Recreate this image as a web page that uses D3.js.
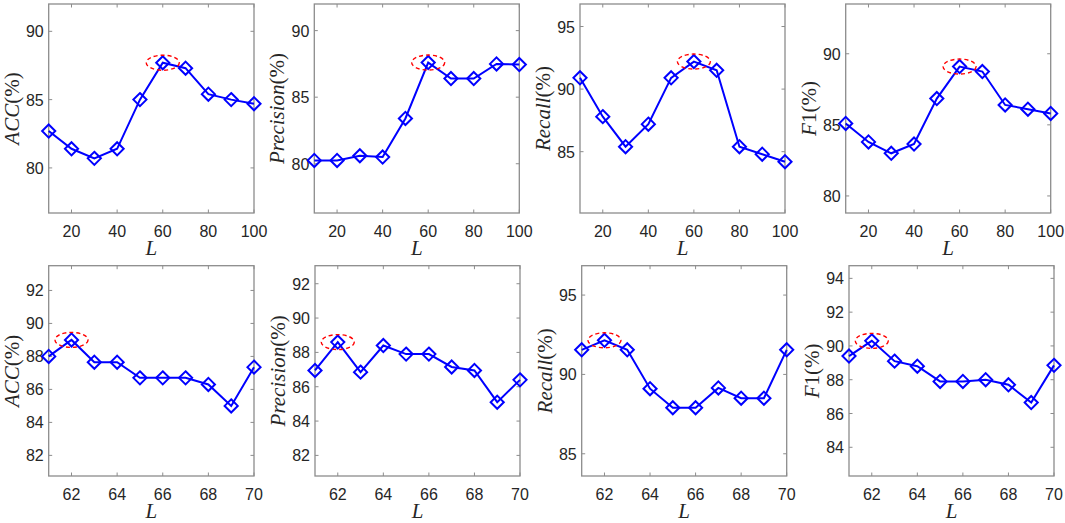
<!DOCTYPE html>
<html>
<head>
<meta charset="utf-8">
<script src="https://cdn.jsdelivr.net/npm/d3@7"></script>
<style>
body { margin: 0; background: #fff; }
svg { display: block; }
.tick-label { font-family: "Liberation Sans", Arial, sans-serif; font-size: 16px; fill: #262626; }
.ax-label { font-family: "Liberation Serif", "Times New Roman", serif; font-size: 21px; fill: #262626; }
</style>
</head>
<body>
<svg id="chart" width="1065" height="523"></svg>
<script>
// data
var Ltop = [10, 20, 30, 40, 50, 60, 70, 80, 90, 100];
var Lbot = [61, 62, 63, 64, 65, 66, 67, 68, 69, 70];

var accTop = [82.7, 81.4, 80.7, 81.4, 85.0, 87.7, 87.3, 85.4, 85.0, 84.7];
var precTop = [80.25, 80.25, 80.6, 80.5, 83.4, 87.6, 86.4, 86.4, 87.5, 87.45];
var recallTop = [90.9, 87.8, 85.4, 87.2, 90.9, 92.2, 91.5, 85.4, 84.8, 84.2];
var f1Top = [85.1, 83.8, 83.0, 83.65, 86.85, 89.1, 88.75, 86.4, 86.1, 85.8];

var accBot = [88.0, 89.0, 87.65, 87.65, 86.7, 86.7, 86.7, 86.3, 85.0, 87.35];
var precBot = [86.95, 88.6, 86.85, 88.4, 87.9, 87.9, 87.15, 86.95, 85.1, 86.4];
var recallBot = [91.55, 92.15, 91.55, 89.1, 87.9, 87.9, 89.15, 88.5, 88.5, 91.55];
var f1Bot = [89.4, 90.3, 89.1, 88.8, 87.9, 87.9, 88.0, 87.7, 86.65, 88.85];

var xTicksTop = [20, 40, 60, 80, 100];
var xTicksBot = [62, 64, 66, 68, 70];

// panel layout
var panels = [
	{ x: Ltop, y: accTop, name: "ACC", box: [48.7, 4, 254, 213], xd: [10, 100], yd: [76.7, 92], xt: xTicksTop, yt: [80, 85, 90] },
	{ x: Ltop, y: precTop, name: "Precision", box: [314.3, 4, 519.3, 213], xd: [10, 100], yd: [76.3, 92], xt: xTicksTop, yt: [80, 85, 90] },
	{ x: Ltop, y: recallTop, name: "Recall", box: [580, 4, 785, 213], xd: [10, 100], yd: [80.1, 96.8], xt: xTicksTop, yt: [85, 90, 95] },
	{ x: Ltop, y: f1Top, name: "F1", box: [845.7, 4, 1050.7, 213], xd: [10, 100], yd: [78.8, 93.5], xt: xTicksTop, yt: [80, 85, 90] },
	{ x: Lbot, y: accBot, name: "ACC", box: [48.7, 265.7, 254, 476], xd: [61, 70], yd: [80.75, 93.5], xt: xTicksBot, yt: [82, 84, 86, 88, 90, 92] },
	{ x: Lbot, y: precBot, name: "Precision", box: [315, 265.7, 520, 476], xd: [61, 70], yd: [80.8, 93.05], xt: xTicksBot, yt: [82, 84, 86, 88, 90, 92] },
	{ x: Lbot, y: recallBot, name: "Recall", box: [581.7, 265.7, 786.7, 476], xd: [61, 70], yd: [83.6, 96.85], xt: xTicksBot, yt: [85, 90, 95] },
	{ x: Lbot, y: f1Bot, name: "F1", box: [849, 265.7, 1054, 476], xd: [61, 70], yd: [82.3, 94.75], xt: xTicksBot, yt: [84, 86, 88, 90, 92, 94] }
];

var svg = d3.select("#chart");
var axisColor = "#8c8c8c";
var blue = "#0000ff";
var diamond = d3.symbol().type(d3.symbolDiamond2).size(110);

panels.forEach(function(p) {
	var x0 = p.box[0], y0 = p.box[1], x1 = p.box[2], y1 = p.box[3];
	var xs = d3.scaleLinear().domain(p.xd).range([x0, x1]);
	var ys = d3.scaleLinear().domain(p.yd).range([y1, y0]);
	var g = svg.append("g");

	// box
	g.append("rect").attr("x", x0).attr("y", y0).attr("width", x1 - x0).attr("height", y1 - y0)
		.attr("fill", "none").attr("stroke", axisColor).attr("stroke-width", 1.3);

	// ticks, inward on all four sides
	var tl = 3.5;
	p.xt.forEach(function(t) {
		var px = xs(t);
		g.append("line").attr("x1", px).attr("x2", px).attr("y1", y1).attr("y2", y1 - tl).attr("stroke", axisColor);
		g.append("line").attr("x1", px).attr("x2", px).attr("y1", y0).attr("y2", y0 + tl).attr("stroke", axisColor);
		g.append("text").attr("class", "tick-label").attr("x", px).attr("y", y1 + 23.5)
			.style("text-anchor", "middle").text(t);
	});
	p.yt.forEach(function(t) {
		var py = ys(t);
		g.append("line").attr("x1", x0).attr("x2", x0 + tl).attr("y1", py).attr("y2", py).attr("stroke", axisColor);
		g.append("line").attr("x1", x1).attr("x2", x1 - tl).attr("y1", py).attr("y2", py).attr("stroke", axisColor);
		g.append("text").attr("class", "tick-label").attr("x", x0 - 5).attr("y", py + 6)
			.style("text-anchor", "end").text(t);
	});

	// axis labels
	g.append("text").attr("class", "ax-label").attr("x", (x0 + x1) / 2).attr("y", y1 + 41.5)
		.style("text-anchor", "middle").style("font-style", "italic").text("L");
	var cx = x0 - 30, cy = (y0 + y1) / 2;
	var yl = g.append("text").attr("class", "ax-label")
		.attr("transform", "translate(" + cx + "," + cy + ") rotate(-90)")
		.style("text-anchor", "middle");
	if (p.name == "F1") {
		yl.append("tspan").style("font-style", "italic").text("F");
		yl.append("tspan").text("1(%)");
	} else {
		yl.append("tspan").style("font-style", "italic").text(p.name);
		yl.append("tspan").text("(%)");
	}

	// line + markers
	var pts = p.x.map(function(v, i) { return [v, p.y[i]]; });
	var line = d3.line().x(function(d) { return xs(d[0]); }).y(function(d) { return ys(d[1]); });
	g.append("path").datum(pts).attr("d", line).attr("fill", "none")
		.attr("stroke", blue).attr("stroke-width", 2);
	g.selectAll(".mk").data(pts).enter().append("path")
		.attr("transform", function(d) { return "translate(" + xs(d[0]) + "," + ys(d[1]) + ")"; })
		.attr("d", diamond).attr("fill", "none").attr("stroke", blue).attr("stroke-width", 2);

	// dashed ellipse around the best value
	var bi = d3.maxIndex(p.y);
	g.append("ellipse").attr("cx", xs(p.x[bi])).attr("cy", ys(p.y[bi])).attr("rx", 16.5).attr("ry", 7.5)
		.attr("fill", "none").attr("stroke", "#ff0000").attr("stroke-width", 1.4)
		.attr("stroke-dasharray", "4,3");
});
</script>
</body>
</html>
